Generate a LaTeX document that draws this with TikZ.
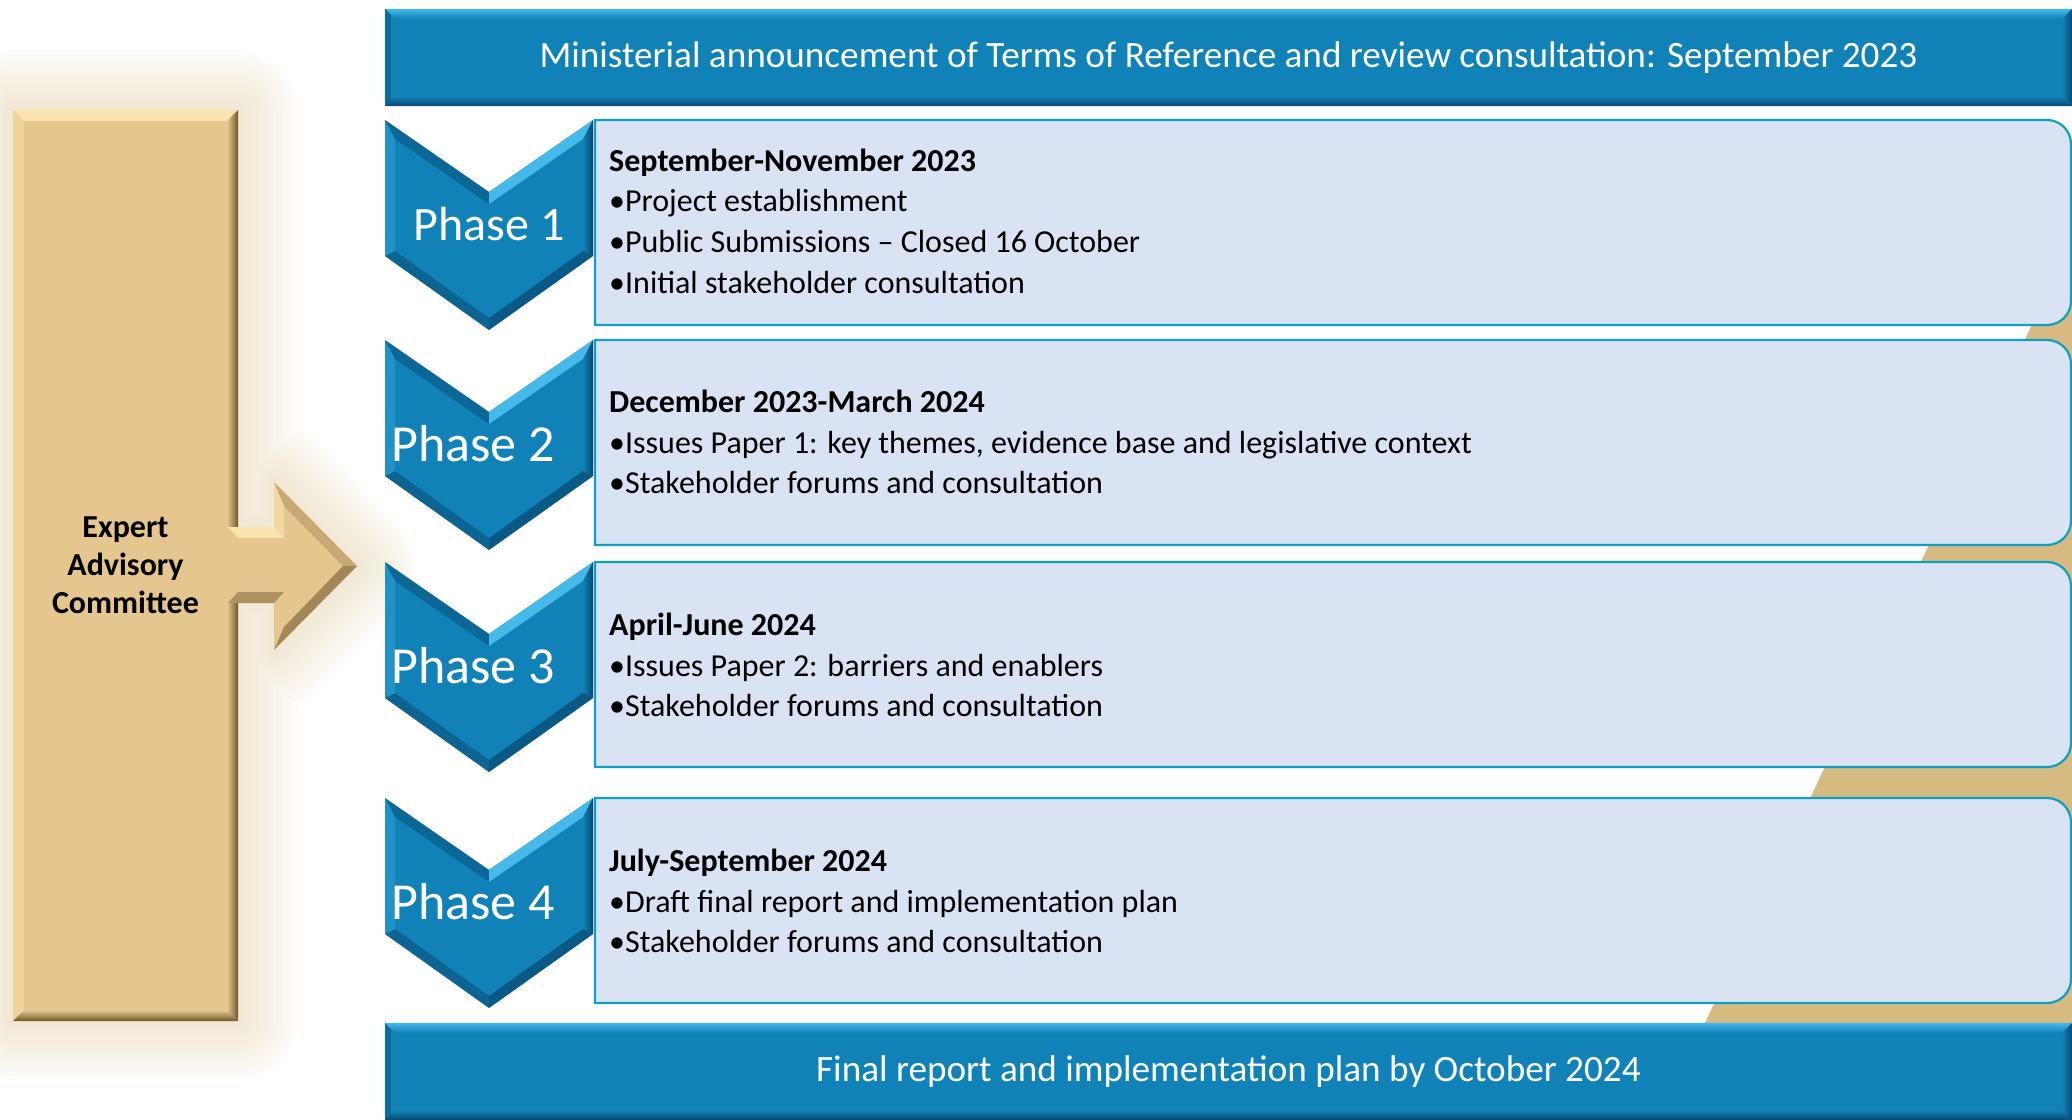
\documentclass[tikz,border=0pt]{standalone}
\usepackage{fontspec}
\setmainfont{Carlito}
\usetikzlibrary{positioning,calc}

\definecolor{bandblue}{RGB}{17,130,184}
\definecolor{bandlight}{RGB}{70,185,235}
\definecolor{banddark}{RGB}{8,72,110}
\definecolor{rowfill}{RGB}{218,227,243}
\definecolor{rowline}{RGB}{14,160,192}
\definecolor{tanbar}{RGB}{228,198,142}
\definecolor{tanlight}{RGB}{248,228,172}
\definecolor{tandark}{RGB}{110,84,40}
\definecolor{tanback}{RGB}{214,186,130}
\definecolor{tanglow}{RGB}{222,198,155}

\begin{document}
\begin{tikzpicture}[
  x=1pt, y=-1pt,
  band/.style={fill=bandblue, text=white, inner sep=0pt,
               minimum width=1687pt, minimum height=97pt,
               font=\fontsize{37.2}{44}\selectfont},
  phase/.style={text=white, inner sep=0pt},
  info/.style={anchor=west, align=left, inner sep=0pt,
               font=\fontsize{32}{40.6}\selectfont},
  rowbox/.style={fill=rowfill, draw=rowline, line width=2.2pt},
]
\useasboundingbox (0,0) rectangle (2072,1119);

% tan wedge behind the rows
\fill[tanback] (2072,239) -- (1660,1119) -- (2072,1119) -- cycle;

% soft glow round the committee bar and its arrow
\foreach \w in {120,110,...,10}
  \draw[tanglow, line width=\w pt, opacity=0.045, line join=round]
    (13,110) -- (238,110) -- (238,527) -- (274,527) -- (274,482) -- (357,566)
    -- (274,650) -- (274,603) -- (238,603) -- (238,1021) -- (13,1021) -- cycle;

% committee bar
\node[fill=tanbar, minimum width=225pt, minimum height=911pt, inner sep=0pt,
      align=center, font=\fontsize{32}{38}\selectfont\bfseries]
  (eac) at (125.5,565.5) {Expert\\Advisory\\Committee};
\fill[tanlight] (eac.north west) -- (eac.north east) -- ++(-11,11)
  -- ($(eac.north west)+(11,11)$) -- cycle;
\fill[tanlight!50!tanbar] (eac.north west) -- (eac.south west) -- ++(11,-11)
  -- ($(eac.north west)+(11,11)$) -- cycle;
\shade[left color=tanbar, right color=tandark] (eac.north east) -- (eac.south east)
  -- ++(-11,-11) -- ($(eac.north east)+(-11,11)$) -- cycle;
\shade[top color=tanbar, bottom color=tandark] (eac.south west) -- (eac.south east)
  -- ++(-11,-11) -- ($(eac.south west)+(11,-11)$) -- cycle;

% block arrow out of the bar
\fill[tanbar] (226,527) -- (274,527) -- (274,482) -- (357,566) -- (274,650)
  -- (274,603) -- (226,603) -- cycle;
\fill[tanlight] (228,527) -- (274,527) -- (284,538) -- (238,538) -- cycle;
\fill[tandark, opacity=.45] (238,592) -- (284,592) -- (274,603) -- (228,603) -- cycle;
\fill[tandark, opacity=.25] (274,482) -- (357,566) -- (343,566) -- (284,506) -- cycle;
\fill[tandark, opacity=.55] (274,650) -- (357,566) -- (343,566) -- (284,627) -- cycle;
\fill[tanlight, opacity=.6] (274,482) -- (284,506) -- (284,538) -- (274,527) -- cycle;

% top and bottom banners
\node[band] (announce) at (1228.5,57.5)
  {Ministerial announcement of Terms of Reference and review consultation: September 2023};
\node[band] (final) at (1228.5,1071.5)
  {Final report and implementation plan by October 2024};
\foreach \b in {announce,final} {
  \shade[top color=bandlight, bottom color=bandblue] (\b.north west) -- (\b.north east)
    -- ++(-10,10) -- ($(\b.north west)+(10,10)$) -- cycle;
  \shade[top color=bandblue, bottom color=banddark] (\b.south west) -- (\b.south east)
    -- ++(-10,-10) -- ($(\b.south west)+(10,-10)$) -- cycle;
  \shade[left color=bandblue, right color=banddark] (\b.north east) -- (\b.south east)
    -- ++(-10,-10) -- ($(\b.north east)+(-10,10)$) -- cycle;
  \fill[banddark, opacity=.4] (\b.north west) -- (\b.south west)
    -- ++(6,-6) -- ($(\b.north west)+(6,6)$) -- cycle;
}

% phase chevrons and their boxes
\foreach \n/\top/\dx/\fs in {1/120/0/48, 2/340/-16/52, 3/562/-16/52, 4/798/-16/52} {
  \draw[rowbox] (595,\top) -- (2047,\top) arc[start angle=-90, end angle=0, radius=24]
    -- (2071,\top+181) arc[start angle=0, end angle=90, radius=24]
    -- (595,\top+205) -- cycle;
  \begin{scope}[shift={(385,\top)}]
    \fill[bandblue] (0,0) -- (104,72) -- (208,0) -- (208,136) -- (104,210) -- (0,136) -- cycle;
    \fill[banddark, opacity=.45] (0,0) -- (104,72) -- (104,84) -- (10,19) -- cycle;
    \fill[bandlight] (104,72) -- (208,0) -- (198,19) -- (104,84) -- cycle;
    \shade[left color=bandblue, right color=banddark] (208,0) -- (208,136) -- (198,131) -- (198,19) -- cycle;
    \fill[banddark, opacity=.7] (208,136) -- (104,210) -- (104,198) -- (198,131) -- cycle;
    \fill[banddark, opacity=.5] (104,210) -- (0,136) -- (10,131) -- (104,198) -- cycle;
    \fill[bandlight, opacity=.3] (0,136) -- (0,0) -- (10,19) -- (10,131) -- cycle;
  \end{scope}
  \node[phase, font=\fontsize{\fs}{\fs}\selectfont] (ph\n) at (489+\dx,\top+104) {Phase \n};
}

\node[info] (info1) at (609,221)
  {\textbf{September-November 2023}\\
   \textbullet Project establishment\\
   \textbullet Public Submissions -- Closed 16 October\\
   \textbullet Initial stakeholder consultation};
\node[info] (info2) at (609,442)
  {\textbf{December 2023-March 2024}\\
   \textbullet Issues Paper 1: key themes, evidence base and legislative context\\
   \textbullet Stakeholder forums and consultation};
\node[info] (info3) at (609,665)
  {\textbf{April-June 2024}\\
   \textbullet Issues Paper 2: barriers and enablers\\
   \textbullet Stakeholder forums and consultation};
\node[info] (info4) at (609,901)
  {\textbf{July-September 2024}\\
   \textbullet Draft final report and implementation plan\\
   \textbullet Stakeholder forums and consultation};
\end{tikzpicture}
\end{document}
